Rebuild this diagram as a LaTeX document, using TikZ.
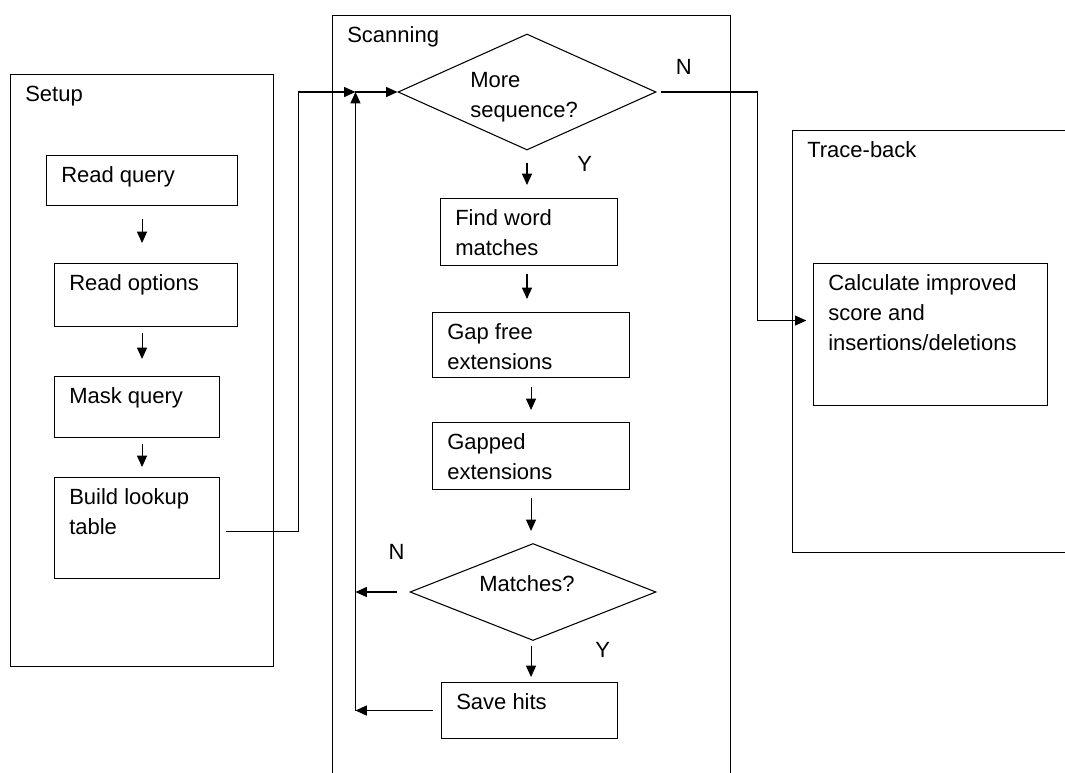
\documentclass[tikz,border=0pt]{standalone}
\usepackage{fontspec}
\setmainfont{Liberation Sans}
\usetikzlibrary{shapes.geometric, arrows.meta, calc}

\begin{document}
\begin{tikzpicture}[
    x=0.75pt, y=-0.75pt,
    font=\fontsize{16.5}{22.5}\selectfont,
    >={Triangle[length=8.5pt, width=7.5pt]},
    frame/.style={
        rectangle,
        draw=black,
        line width=0.8pt,
        anchor=north west,
        inner sep=0pt
    },
    decision/.style={
        diamond,
        draw=black,
        line width=0.8pt,
        inner sep=0pt
    },
    boxtext/.style={
        anchor=base west,
        align=left,
        inner sep=0pt,
        xshift=11.25pt,
        yshift=-20.6pt
    },
    answer/.style={
        anchor=base west,
        inner sep=0pt
    },
    morelines/.style={
        yshift=-22.5pt*#1
    },
    flow/.style={
        ->,
        line width=0.8pt
    },
    line/.style={
        line width=0.8pt
    }
]

\useasboundingbox (0,0) rectangle (1065,772);

% Groups
\node[frame, minimum width=197.25pt, minimum height=444pt] (setup) at (10,74) {};
\node[boxtext] (setup-t) at (setup.north west) {Setup};
\node[frame, minimum width=298.5pt, minimum height=573.75pt] (scan) at (332,15) {};
\node[boxtext] (scan-t) at (scan.north west) {Scanning};
\node[frame, minimum width=216pt, minimum height=316.5pt] (trace) at (792,130) {};
\node[boxtext] (trace-t) at (trace.north west) {Trace-back};

% Setup steps
\node[frame, minimum width=143.25pt, minimum height=37.5pt] (readq) at (46,155) {};
\node[boxtext] (readq-t) at (readq.north west) {Read query};
\node[frame, minimum width=137.25pt, minimum height=47.25pt] (readopt) at (54,263) {};
\node[boxtext] (readopt-t) at (readopt.north west) {Read options};
\node[frame, minimum width=123.75pt, minimum height=45.75pt] (maskq) at (54,376) {};
\node[boxtext] (maskq-t) at (maskq.north west) {Mask query};
\node[frame, minimum width=123.75pt, minimum height=75.75pt] (build) at (54,477) {};
\node[boxtext, morelines=1] (build-t) at (build.north west) {Build lookup\\table};

% Scanning steps
\node[decision, minimum width=193.5pt, minimum height=87pt] (more) at (527,92) {};
\node[answer, align=left, xshift=-42.75pt, yshift=3.75pt, morelines=1] (more-t) at (more.center) {More\\sequence?};
\node[answer, xshift=14.25pt, yshift=13.5pt] (more-n) at (more.east) {N};
\node[answer, xshift=37.5pt, yshift=-15.75pt] (more-y) at (more.south) {Y};

\node[frame, minimum width=132.75pt, minimum height=50.25pt] (findw) at (440,198) {};
\node[boxtext, morelines=1] (findw-t) at (findw.north west) {Find word\\matches};
\node[frame, minimum width=147.75pt, minimum height=48.75pt] (gapfree) at (432,312) {};
\node[boxtext, morelines=1] (gapfree-t) at (gapfree.north west) {Gap free\\extensions};
\node[frame, minimum width=147.75pt, minimum height=50.25pt] (gapped) at (432,422) {};
\node[boxtext, morelines=1] (gapped-t) at (gapped.north west) {Gapped\\extensions};

\node[decision, minimum width=184.5pt, minimum height=72.75pt] (matches) at (533,592) {};
\node[answer, xshift=-40.5pt, yshift=0.75pt] (matches-t) at (matches.center) {Matches?};
\node[answer, xshift=-15.75pt, yshift=24.75pt] (matches-n) at (matches.west) {N};
\node[answer, xshift=46.5pt, yshift=-12pt] (matches-y) at (matches.south) {Y};

\node[frame, minimum width=132pt, minimum height=42pt] (save) at (441,682) {};
\node[boxtext] (save-t) at (save.north west) {Save hits};

% Trace-back step
\node[frame, minimum width=175.5pt, minimum height=106.5pt] (calc) at (813,263) {};
\node[boxtext, morelines=2] (calc-t) at (calc.north west) {Calculate improved\\score and\\insertions/deletions};

% Loop junction
\coordinate (join) at ([xshift=-31.5pt]more.west);

% Setup arrows
\draw[flow, shorten <=9.75pt, shorten >=15pt] (readq.south) -- (readq.south |- readopt.north);
\draw[flow, shorten <=4.5pt, shorten >=12.75pt] (readq.south |- readopt.south) -- (readq.south |- maskq.north);
\draw[flow, shorten <=4.5pt, shorten >=7.5pt] (readq.south |- maskq.south) -- (readq.south |- build.north);

% Into the scanning loop
\draw[flow] ([xshift=4.5pt, yshift=-2.5pt]build.east) -- ++(54pt,0) |- (join);
\draw[flow] (join) -- (more.west);

% Scanning arrows
\draw[flow, shorten <=9pt, shorten >=9.75pt] (more.south) -- (more.south |- findw.north);
\draw[flow, shorten <=6pt, shorten >=9.75pt] (more.south |- findw.south) -- (more.south |- gapfree.north);
\draw[flow, shorten <=6.75pt, shorten >=9pt] (gapfree.south) -- (gapfree.south |- gapped.north);
\draw[flow, shorten <=6pt, shorten >=9pt] (gapped.south) -- (gapped.south |- matches.north);
\draw[flow, shorten <=3.75pt, shorten >=3.75pt] (gapped.south |- matches.south) -- (gapped.south |- save.north);

% Back to the start of the loop
\draw[flow] ([xshift=-9pt]matches.west) -- (matches.west -| join);
\draw[flow] ([xshift=-6pt]save.west) -- (save.west -| join);
\draw[flow] (save.west -| join) -- (join);

% No more sequence
\draw[flow, shorten >=5pt] ([xshift=3pt]more.east) -- ++(72.75pt,0) |- ([yshift=10.5pt]calc.west);

\end{tikzpicture}
\end{document}
